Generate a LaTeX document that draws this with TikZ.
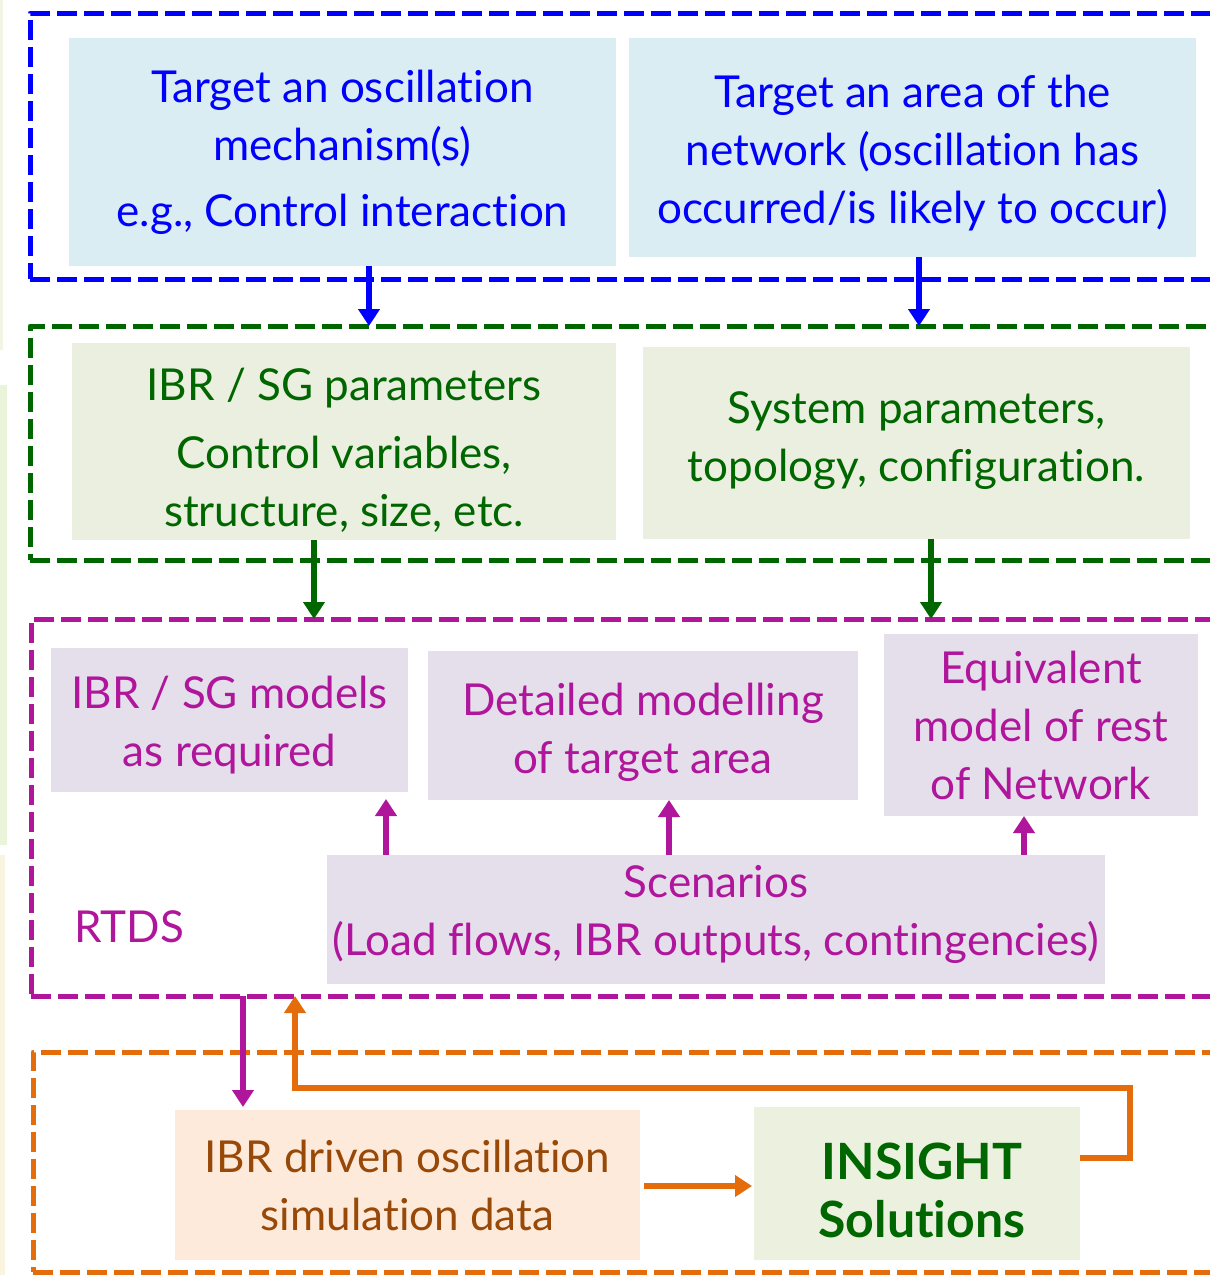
\documentclass[tikz,border=0pt]{standalone}
\usepackage{fontspec}
\setmainfont{Lato}[Ligatures={NoCommon,NoRare,NoDiscretionary}]
\usetikzlibrary{arrows.meta}

\definecolor{bblue}{HTML}{0000FF}
\definecolor{bfill}{HTML}{DAEDF3}
\definecolor{ggreen}{HTML}{006600}
\definecolor{gfill}{HTML}{EBEFDF}
\definecolor{ppurple}{HTML}{B0169B}
\definecolor{pfill}{HTML}{E5DFEC}
\definecolor{oorange}{HTML}{E46C0A}
\definecolor{ofill}{HTML}{FDEADA}
\definecolor{obrown}{HTML}{984807}
\definecolor{insfill}{HTML}{EBF0DF}

\tikzset{
  frame/.style={draw=#1, line width=5pt, dash pattern=on 20pt off 7pt,
    anchor=north west, inner sep=0pt, outer sep=0pt, line join=round},
  box/.style={anchor=north west, inner sep=0pt, outer sep=0pt},
  boxtext/.style={align=center, inner sep=0pt, font=\fontsize{44}{58}\selectfont},
  bluebox/.style={box, fill=bfill},
  greenbox/.style={box, fill=gfill},
  purplebox/.style={box, fill=pfill},
  bluetext/.style={boxtext, text=bblue},
  greentext/.style={boxtext, text=ggreen},
  purpletext/.style={boxtext, text=ppurple},
  arrowline/.style={draw=#1, line width=6pt,
    -{Triangle[width=21pt,length=17pt]}},
}

\begin{document}
\begin{tikzpicture}[x=1pt,y=-1pt]
  \useasboundingbox (0,0) rectangle (1210,1275);
  \clip (0,0) rectangle (1210,1275);

  % faint strips along the left edge
  \fill[color={rgb,255:red,241;green,245;blue,227}] (0,0) rectangle (3,350);
  \fill[color={rgb,255:red,233;green,244;blue,218}] (0,385) rectangle (7,845);
  \fill[color={rgb,255:red,248;green,244;blue,224}] (0,855) rectangle (5,1275);

  % dashed group frames (running off the right edge)
  \node[frame=bblue, minimum width=1200pt, minimum height=266pt] (bframe) at (30,13) {};
  \node[frame=ggreen, minimum width=1200pt, minimum height=234pt] (gframe) at (30,326) {};
  \node[frame=ppurple, minimum width=1200pt, minimum height=377pt] (pframe) at (31,619) {};
  \node[frame=oorange, minimum width=1200pt, minimum height=220pt] (oframe) at (33,1052) {};

  % targeting
  \node[bluebox, minimum width=547pt, minimum height=228pt,
    label={[bluetext]center:{Target an oscillation\\mechanism(s)\\[8pt]e.g., Control interaction}}]
    (b1) at (69,38) {};
  \node[bluebox, minimum width=567pt, minimum height=219pt,
    label={[bluetext, yshift=-6pt]center:{Target an area of the\\network (oscillation has\\occurred/is likely to occur)}}]
    (b2) at (629,38) {};

  % parameters
  \node[greenbox, minimum width=544pt, minimum height=197pt,
    label={[greentext, yshift=-9pt]center:{IBR / SG parameters\\[10pt]Control variables,\\structure, size, etc.}}]
    (g1) at (72,343) {};
  \node[greenbox, minimum width=547pt, minimum height=192pt,
    label={[greentext, yshift=2pt]center:{System parameters,\\topology, configuration.}}]
    (g2) at (643,347) {};

  % RTDS models
  \node[purplebox, minimum width=357pt, minimum height=144pt,
    label={[purpletext, yshift=-5pt]center:{IBR / SG models\\as required}}]
    (p1) at (51,648) {};
  \node[purplebox, minimum width=430pt, minimum height=149pt,
    label={[purpletext, yshift=-7pt]center:{Detailed modelling\\of target area}}]
    (p2) at (428,651) {};
  \node[purplebox, minimum width=314pt, minimum height=182pt,
    label={[purpletext]center:{Equivalent\\model of rest\\of Network}}]
    (p3) at (884,634) {};
  \node[purplebox, minimum width=778pt, minimum height=129pt,
    label={[purpletext, yshift=5pt]center:{Scenarios\\(Load flows, IBR outputs, contingencies)}}]
    (sc) at (327,855) {};
  \node[purpletext] (rtds) at (129,927) {RTDS};

  % outputs
  \node[box, fill=ofill, minimum width=465pt, minimum height=150pt,
    label={[boxtext, text=obrown]center:{IBR driven oscillation\\simulation data}}]
    (o1) at (175,1110) {};
  \node[box, fill=insfill, minimum width=326pt, minimum height=153pt,
    label={[greentext, font=\fontsize{50}{58}\selectfont\bfseries, xshift=5pt, yshift=-7pt]center:{INSIGHT\\Solutions}}]
    (ins) at (754,1107) {};

  % connector positions
  \coordinate (xb1) at (369,0);
  \coordinate (xb2) at (919,0);
  \coordinate (xg1) at (314,0);
  \coordinate (xg2) at (931,0);
  \coordinate (xp1) at (386,0);
  \coordinate (xp2) at (669,0);
  \coordinate (xp3) at (1024,0);
  \coordinate (xdn) at (243,0);
  \coordinate (xup) at (295,0);
  \coordinate (loopx) at (1130,1158);
  \coordinate (loopy) at (0,1088);

  \draw[arrowline=bblue] (b1.south -| xb1) -- (xb1 |- gframe.north);
  \draw[arrowline=bblue] (b2.south -| xb2) -- (xb2 |- gframe.north);
  \draw[arrowline=ggreen] (g1.south -| xg1) -- (xg1 |- pframe.north);
  \draw[arrowline=ggreen] (g2.south -| xg2) -- (xg2 |- pframe.north);

  \draw[arrowline=ppurple, shorten >=7pt] (sc.north -| xp1) -- (xp1 |- p1.south);
  \draw[arrowline=ppurple] (sc.north -| xp2) -- (xp2 |- p2.south);
  \draw[arrowline=ppurple] (sc.north -| xp3) -- (xp3 |- p3.south);

  \draw[arrowline=ppurple, shorten >=3pt] (pframe.south -| xdn) -- (xdn |- o1.north);

  \draw[arrowline=oorange, shorten <=4pt, shorten >=2pt] (o1.east |- 0,1186) -- (ins.west |- 0,1186);
  \draw[arrowline=oorange, line join=miter]
    (ins.east |- loopx) -- (loopx) -- (loopx |- loopy) -- (xup |- loopy) -- (xup |- pframe.south);
\end{tikzpicture}
\end{document}
